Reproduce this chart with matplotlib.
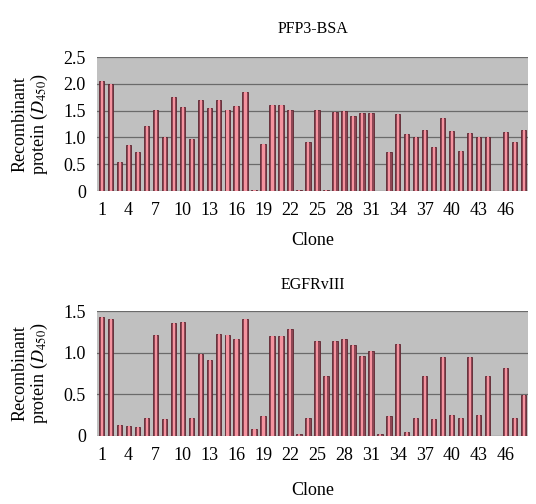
import matplotlib
matplotlib.use("Agg")
import matplotlib.pyplot as plt
import numpy as np

plt.rcParams["font.family"] = ["Liberation Serif", "DejaVu Serif"]
plt.rcParams["mathtext.fontset"] = "stix"

clones = list(range(1, 49))
tick_clones = list(range(1, 47, 3))

pfp3_bsa = [2.05, 2.00, 0.55, 0.85, 0.72, 1.22, 1.52, 1.00, 1.76, 1.56,
            0.97, 1.69, 1.55, 1.70, 1.52, 1.58, 1.84, 0.02, 0.88, 1.61,
            1.61, 1.52, 0.02, 0.91, 1.51, 0.02, 1.47, 1.49, 1.40, 1.46,
            1.46, 0.00, 0.72, 1.43, 1.07, 1.00, 1.13, 0.83, 1.37, 1.12,
            0.75, 1.09, 1.00, 1.00, 0.00, 1.10, 0.91, 1.13]

egfrviii = [1.43, 1.41, 0.13, 0.12, 0.11, 0.22, 1.21, 0.21, 1.36, 1.37,
            0.22, 0.99, 0.91, 1.22, 1.21, 1.17, 1.41, 0.09, 0.24, 1.20,
            1.20, 1.28, 0.03, 0.22, 1.14, 0.72, 1.14, 1.16, 1.09, 0.96,
            1.02, 0.02, 0.24, 1.11, 0.05, 0.22, 0.72, 0.21, 0.95, 0.25,
            0.22, 0.95, 0.25, 0.72, 0.00, 0.82, 0.22, 0.49]

W, H = 536, 504


def draw_panel(ax, values, title, ymax, yticks, title_pad, xlab_pad):
    x = np.array(clones)
    ax.set_facecolor("#c0c0c0")
    ax.bar(x, values, width=0.6, color="#8e4654", edgecolor="#5e2530",
           linewidth=0.6, zorder=2)
    ax.bar(x + 0.04, values, width=0.24, color="#f5939f", linewidth=0, zorder=3)
    ax.set_xlim(0.5, 48.5)
    ax.set_ylim(0, ymax)
    ax.set_yticks(yticks)
    ax.set_yticklabels(["0" if t == 0 else f"{t:.1f}" for t in yticks], fontsize=13)
    ax.set_xticks(tick_clones)
    ax.set_xticklabels([str(c) for c in tick_clones], fontsize=13)
    ax.tick_params(length=0, pad=8)
    ax.grid(axis="y", color="#6a6a6a", linewidth=0.9, zorder=1)
    for s in ax.spines.values():
        s.set_visible(False)
    ax.set_title(title, fontsize=11.5, pad=title_pad)
    ax.set_xlabel("Clone", fontsize=13, labelpad=xlab_pad)
    ax.set_ylabel("Recombinant\n" + r"protein ($D_{450}$)", fontsize=13,
                  labelpad=10, linespacing=1.0)


fig = plt.figure(figsize=(W / 100, H / 100), dpi=100)
ax1 = fig.add_axes([97 / W, 1 - 191 / H, 431 / W, 134 / H])
ax2 = fig.add_axes([97 / W, 1 - 436 / H, 431 / W, 125 / H])

draw_panel(ax1, pfp3_bsa, "PFP3-BSA", 2.5, [0, 0.5, 1.0, 1.5, 2.0, 2.5], 17, 9)
draw_panel(ax2, egfrviii, "EGFRvIII", 1.5, [0, 0.5, 1.0, 1.5], 16, 13)

fig.savefig("out.png", dpi=100)
